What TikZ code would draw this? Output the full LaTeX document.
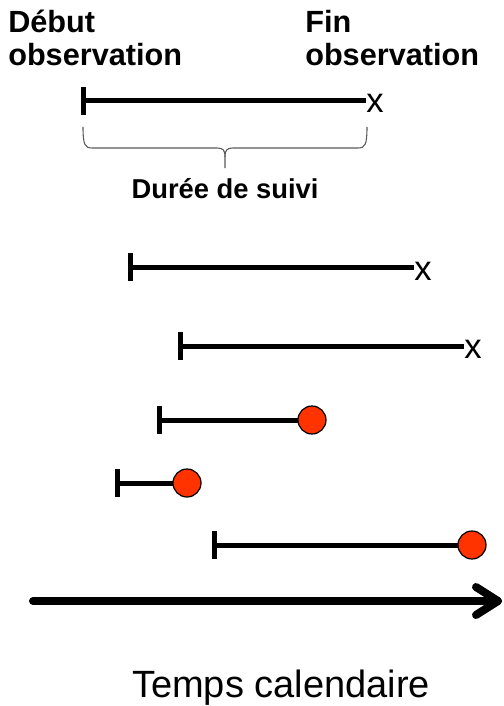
\documentclass[tikz,border=0pt]{standalone}
\usepackage{fontspec}
\setmainfont{Liberation Sans}
\usetikzlibrary{calc}
\definecolor{evred}{HTML}{FF3300}
\tikzset{
  seg/.style={line width=3.75pt},
  startbar/.style={line width=3.75pt},
  endx/.style={font=\fontsize{26}{30}\selectfont, inner sep=0pt, anchor=base west},
  event/.style={circle, draw=black, line width=0.9pt, fill=evred, minimum size=21pt, inner sep=0pt},
  lbl/.style={font=\bfseries\fontsize{23}{24.75}\selectfont, align=left, inner sep=0pt, anchor=north west},
  bracestyle/.style={draw=black!65, line width=0.8pt},
  axis/.style={line width=6pt, line cap=round, line join=round}
}
\begin{document}
\begin{tikzpicture}[x=0.75pt, y=-0.75pt]
\useasboundingbox (0,0) rectangle (503,706);

% labels
\node[lbl] (deb) at (8,10) {Début\\observation};
\node[lbl] (fin) at (305,10) {Fin\\observation};

% start points
\coordinate (s1) at (83,101);
\coordinate (s2) at (130,267);
\coordinate (s3) at (180,346);
\coordinate (s4) at (159,420);
\coordinate (s5) at (117,483);
\coordinate (s6) at (214,545);

% end markers
\node[endx] (x1) at (366,113) {x};
\node[endx] (x2) at (414,280) {x};
\node[endx] (x3) at (464,358) {x};

% segments ending in x
\draw[seg] (s1) -- (s1 -| x1.west);
\draw[seg] (s2) -- (s2 -| x2.west);
\draw[seg] (s3) -- (s3 -| x3.west);

% segments ending in event
\coordinate (c4pos) at (312,420);
\coordinate (c5pos) at (187,483);
\coordinate (c6pos) at (472,545);
\draw[seg] (s4) -- (c4pos);
\draw[seg] (s5) -- (c5pos);
\draw[seg] (s6) -- (c6pos);
\node[event] (c4) at (c4pos) {};
\node[event] (c5) at (c5pos) {};
\node[event] (c6) at (c6pos) {};

% start bars
\foreach \s in {s1,s2,s3,s4,s5,s6}
  \draw[startbar] ($(\s)+(0,-14)$) -- ($(\s)+(0,14)$);

% brace
\draw[bracestyle] (83,127) .. controls (83,145) and (85,148) .. (92,148) -- (217,148)
   .. controls (223,148) and (225,150) .. (225,157) -- (225,168);
\draw[bracestyle] (367,127) .. controls (367,145) and (365,148) .. (358,148) -- (233,148)
   .. controls (227,148) and (225,150) .. (225,157);
\node[font=\bfseries\fontsize{20.5}{24}\selectfont, inner sep=0pt, anchor=base] (duree) at (225,198) {Durée de suivi};

% time axis
\coordinate (a0) at (33,601);
\coordinate (a1) at (498,601);
\draw[axis] (a0) -- (a1);
\draw[axis] ($(a1)+(-22,-14)$) -- (a1) -- ($(a1)+(-22,14)$);
\node[font=\fontsize{28.5}{32}\selectfont, inner sep=0pt, anchor=base] (temps) at (281,697) {Temps calendaire};
\end{tikzpicture}
\end{document}
